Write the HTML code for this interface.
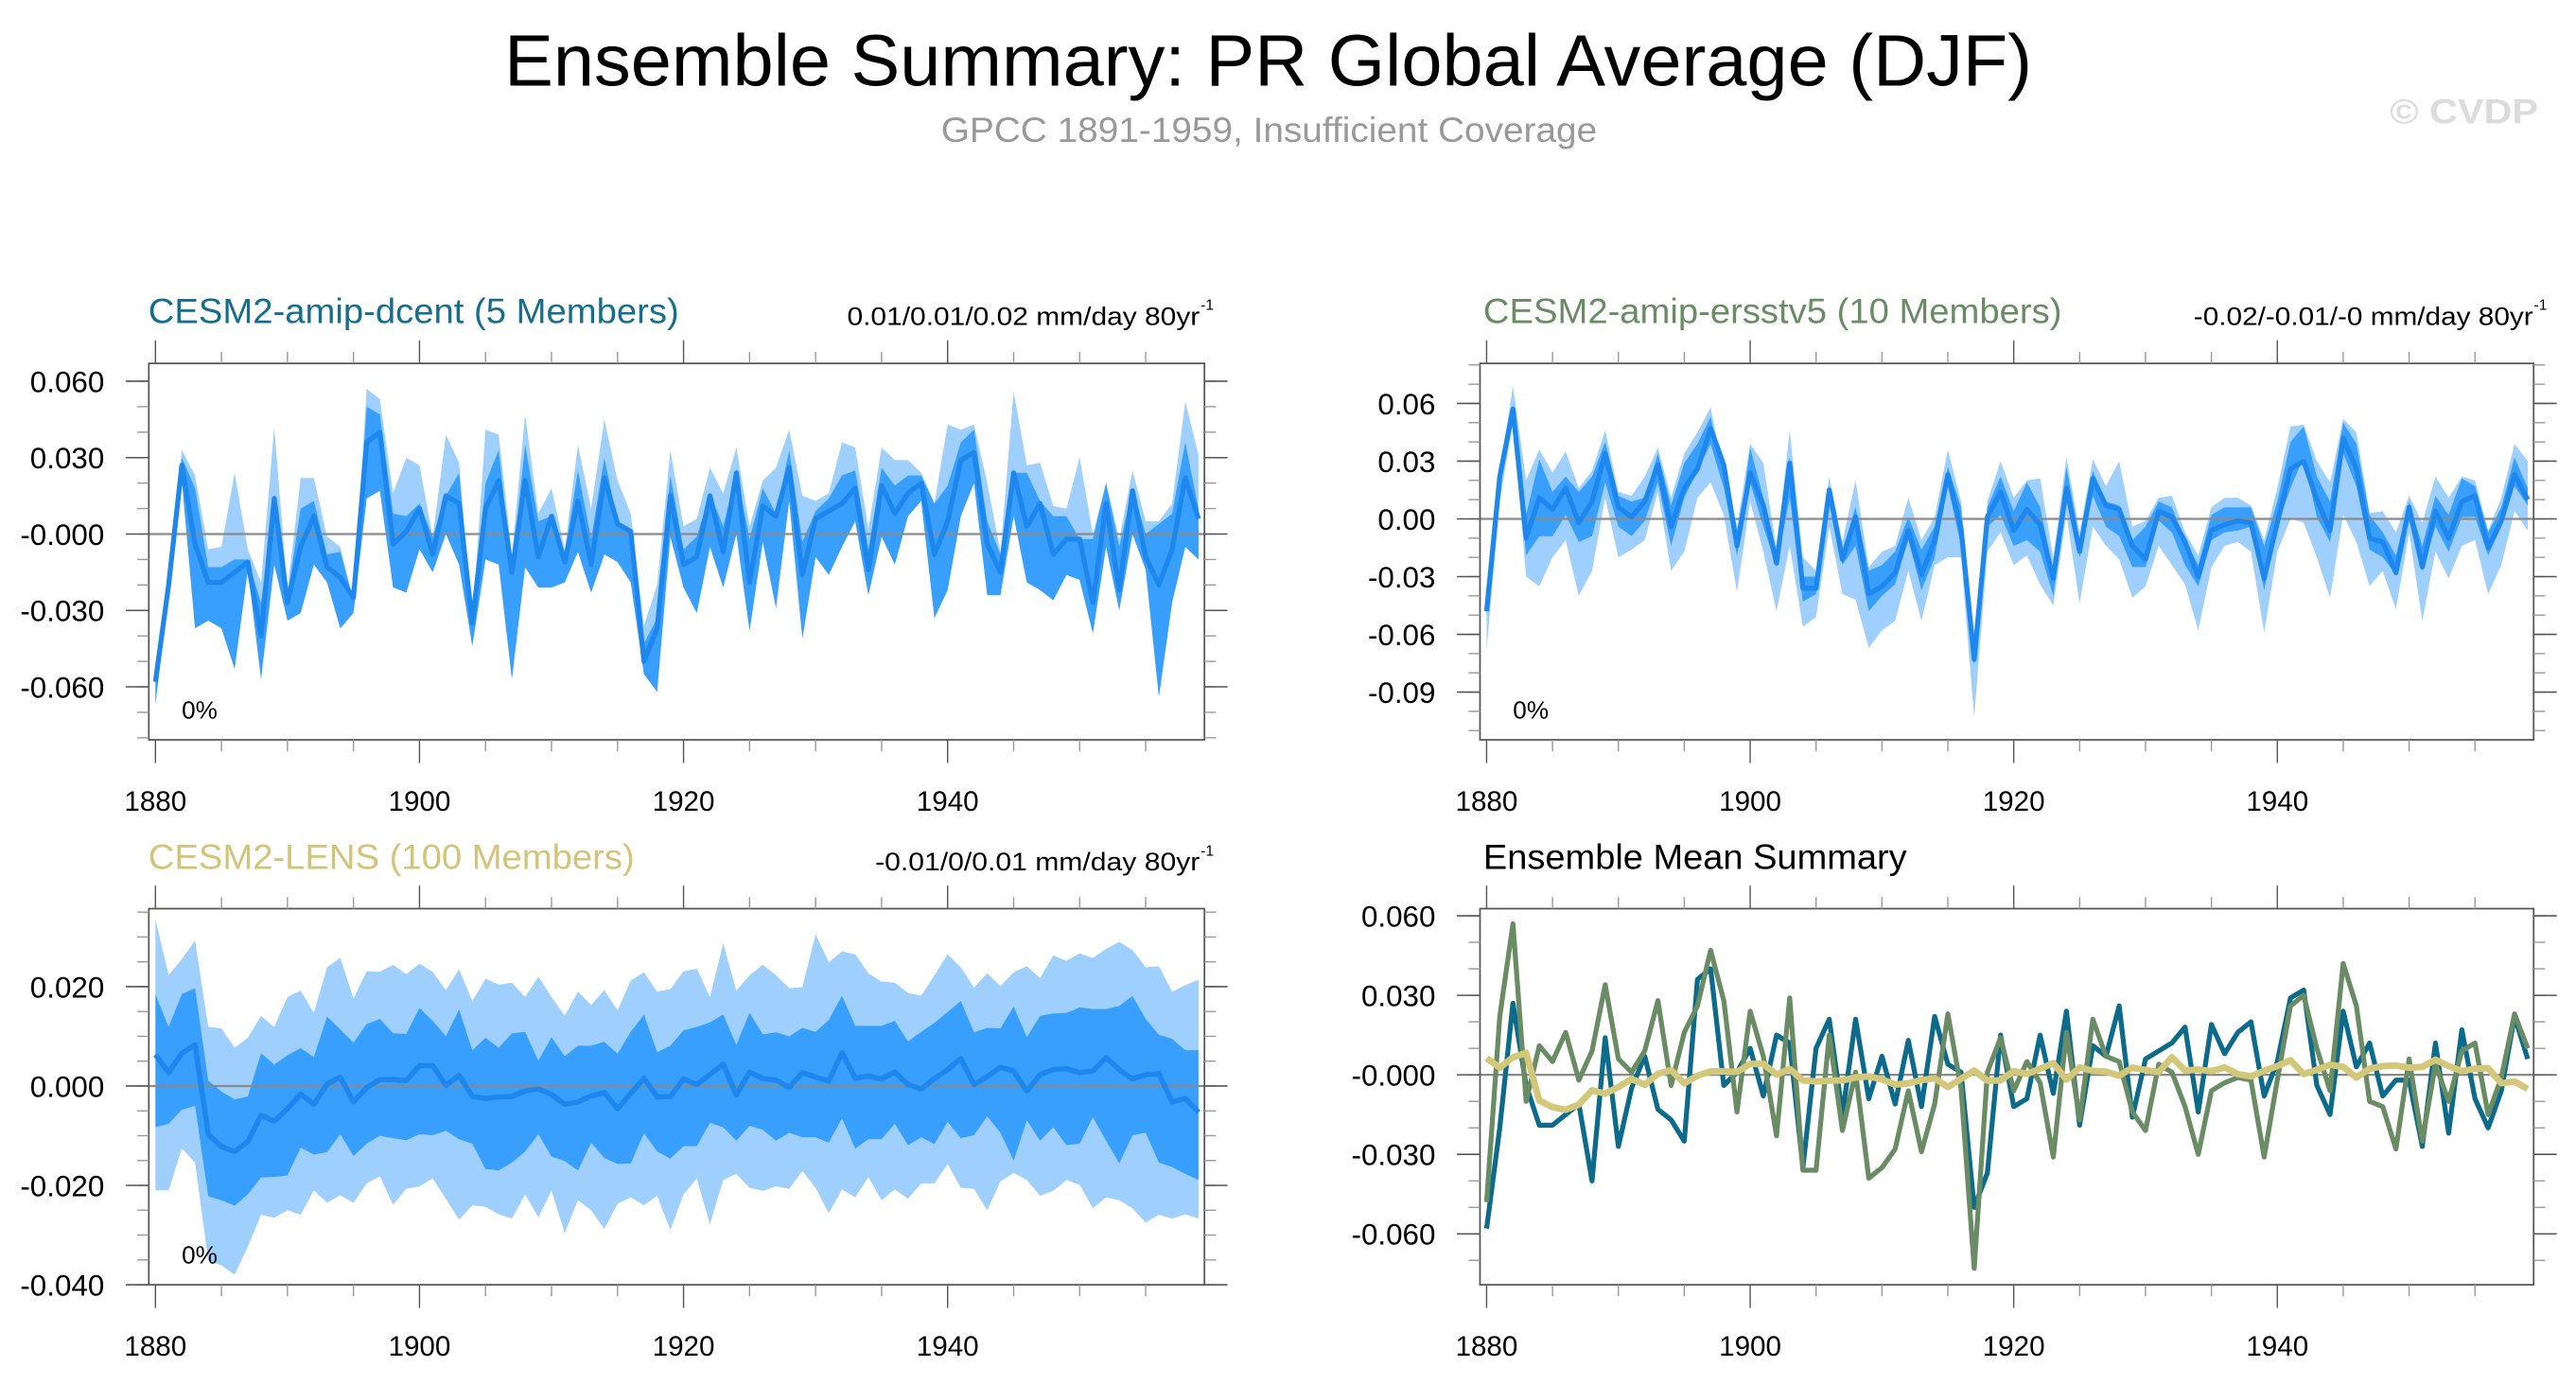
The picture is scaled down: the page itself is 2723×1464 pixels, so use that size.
<!DOCTYPE html>
<html><head><meta charset="utf-8"><title>Ensemble Summary: PR Global Average (DJF)</title>
<style>
html,body{margin:0;padding:0;background:#fff;}
svg{display:block;font-family:"Liberation Sans",Arial,sans-serif;}
</style></head>
<body>
<svg id="chart" width="2723" height="1464" viewBox="0 0 1563 840" preserveAspectRatio="none" xmlns="http://www.w3.org/2000/svg">
<rect x="0" y="0" width="1563" height="840" fill="#fff"/>
<text x="769.5" y="52" font-size="44" text-anchor="middle" textLength="927" lengthAdjust="spacingAndGlyphs">Ensemble Summary: PR Global Average (DJF)</text>
<text x="770" y="86" font-size="21" fill="#999" text-anchor="middle" textLength="398" lengthAdjust="spacingAndGlyphs">GPCC 1891-1959, Insufficient Coverage</text>
<text x="1450" y="75" font-size="21" font-weight="bold" fill="#dcdcdc" textLength="90" lengthAdjust="spacingAndGlyphs">© CVDP</text>

<text x="90" y="196" font-size="21" fill="#156e8e" textLength="322" lengthAdjust="spacingAndGlyphs">CESM2-amip-dcent (5 Members)</text>
<text x="514" y="197" font-size="15.5" textLength="214" lengthAdjust="spacingAndGlyphs">0.01/0.01/0.02 mm/day 80yr</text>
<text x="728.5" y="188" font-size="9">-1</text>

<text x="900" y="196" font-size="21" fill="#6a8c64" textLength="351" lengthAdjust="spacingAndGlyphs">CESM2-amip-ersstv5 (10 Members)</text>
<text x="1331" y="197" font-size="15.5" textLength="206" lengthAdjust="spacingAndGlyphs">-0.02/-0.01/-0 mm/day 80yr</text>
<text x="1537.5" y="188" font-size="9">-1</text>

<text x="90" y="527" font-size="21" fill="#d2c57a" textLength="295" lengthAdjust="spacingAndGlyphs">CESM2-LENS (100 Members)</text>
<text x="531" y="528" font-size="15.5" textLength="197" lengthAdjust="spacingAndGlyphs">-0.01/0/0.01 mm/day 80yr</text>
<text x="728.5" y="519" font-size="9">-1</text>

<text x="900" y="527" font-size="21" fill="#000" textLength="257" lengthAdjust="spacingAndGlyphs">Ensemble Mean Summary</text>
<g id="plots"></g>
</svg>
<script>
const years = [];
for (let y = 1880; y <= 1959; y++) years.push(y);

const dcentMean = [-0.058,-0.020,0.027,-0.004,-0.019,-0.019,-0.015,-0.011,-0.040,0.014,-0.027,-0.005,0.007,-0.013,-0.017,-0.025,0.036,0.040,-0.004,0.001,0.010,-0.008,0.015,0.012,-0.035,0.010,0.021,-0.015,0.021,-0.009,0.007,-0.011,0.013,-0.012,0.022,0.004,0.001,-0.050,-0.037,0.015,-0.012,-0.009,0.015,-0.007,0.024,-0.019,0.011,0.007,0.026,-0.016,0.006,0.009,0.012,0.018,-0.014,0.019,0.008,0.016,0.020,-0.008,0.005,0.029,0.032,-0.004,-0.015,0.024,0.003,0.012,-0.008,-0.002,-0.002,-0.027,0.012,-0.022,0.017,-0.009,-0.020,-0.006,0.022,0.006];
const ersstMean = [-0.048,0.022,0.057,-0.010,0.011,0.005,0.016,-0.002,0.009,0.034,0.006,0.001,0.009,0.028,-0.004,0.016,0.026,0.047,0.028,-0.014,0.024,0.007,-0.023,0.029,-0.036,-0.036,0.015,-0.021,0.001,-0.039,-0.035,-0.028,-0.006,-0.029,-0.011,0.023,-0.005,-0.073,0.001,0.014,-0.006,0.005,-0.003,-0.031,0.016,-0.017,0.021,0.007,0.005,-0.014,-0.021,0.004,0.001,-0.012,-0.030,-0.006,-0.003,-0.001,-0.002,-0.031,-0.002,0.026,0.030,0.010,-0.006,0.042,0.026,-0.010,-0.012,-0.028,0.006,-0.025,0.004,-0.010,0.009,0.012,-0.015,-0.001,0.023,0.010];
const lensMean = [0.0063,0.0027,0.0066,0.0083,-0.0097,-0.0122,-0.0132,-0.0112,-0.0059,-0.0071,-0.0046,-0.0016,-0.0037,0.0004,0.0018,-0.0032,-0.0003,0.0013,0.0013,0.0011,0.0041,0.0041,0.0001,0.0022,-0.0021,-0.0025,-0.0022,-0.0021,-0.0010,-0.0006,-0.0017,-0.0037,-0.0032,-0.0020,-0.0013,-0.0046,-0.0015,0.0016,-0.0022,-0.0021,0.0014,0.0003,0.0023,0.0044,-0.0018,0.0028,0.0015,0.0012,-0.0003,0.0027,0.0018,0.0010,0.0067,0.0016,0.0020,0.0014,0.0028,0.0003,-0.0006,0.0015,0.0033,0.0055,0.0003,0.0019,0.0038,0.0030,-0.0010,0.0023,0.0033,0.0035,0.0027,0.0030,0.0057,0.0033,0.0014,0.0023,0.0025,-0.0032,-0.0025,-0.0053];

const p1LightUpper = [-0.057,-0.015,0.033,0.023,-0.006,-0.005,0.024,-0.006,-0.019,0.042,-0.022,0.022,0.022,-0.001,-0.005,-0.026,0.057,0.053,0.016,0.030,0.027,-0.001,0.039,0.028,-0.034,0.041,0.039,-0.008,0.047,0.008,0.018,-0.006,0.035,0.010,0.045,0.021,0.008,-0.036,-0.020,0.033,0.003,0.006,0.026,0.016,0.034,0.003,0.021,0.026,0.041,0.015,0.013,0.016,0.036,0.034,0.002,0.034,0.029,0.029,0.024,0.012,0.043,0.041,0.043,0.020,-0.007,0.056,0.027,0.028,0.011,0.010,0.030,0.000,0.020,-0.002,0.025,0.005,0.005,0.012,0.052,0.031];
const p1DarkUpper = [-0.057,-0.017,0.030,0.018,-0.013,-0.013,-0.010,-0.010,-0.027,0.014,-0.024,0.010,0.013,-0.008,-0.007,-0.026,0.050,0.047,0.008,0.007,0.012,-0.001,0.015,0.024,-0.034,0.020,0.033,-0.014,0.035,0.005,0.007,-0.008,0.025,-0.002,0.030,0.005,0.000,-0.043,-0.033,0.023,-0.006,-0.001,0.016,0.003,0.024,-0.002,0.018,0.008,0.033,-0.003,0.009,0.014,0.023,0.025,-0.006,0.026,0.019,0.023,0.023,0.012,0.019,0.036,0.041,0.005,-0.008,0.024,0.024,0.013,0.007,0.007,-0.002,-0.002,0.020,-0.005,0.018,0.000,0.004,0.008,0.036,0.010];
const p1Lower = [-0.067,-0.023,0.021,-0.037,-0.034,-0.037,-0.053,-0.014,-0.057,-0.012,-0.034,-0.031,-0.012,-0.019,-0.037,-0.031,0.014,0.017,-0.021,-0.023,-0.006,-0.015,0.000,-0.012,-0.044,-0.010,-0.012,-0.057,-0.013,-0.021,-0.021,-0.019,-0.007,-0.023,-0.008,-0.011,-0.019,-0.055,-0.062,-0.001,-0.021,-0.031,-0.005,-0.021,0.000,-0.038,-0.003,-0.029,0.013,-0.041,-0.009,-0.016,-0.005,0.005,-0.024,-0.001,-0.012,0.007,0.013,-0.033,-0.022,0.007,0.020,-0.024,-0.024,0.007,-0.019,-0.022,-0.026,-0.016,-0.018,-0.039,-0.005,-0.030,0.000,-0.014,-0.064,-0.027,-0.005,-0.010];

const p2LightUpper = [-0.043,0.025,0.069,0.020,0.036,0.024,0.035,0.016,0.025,0.046,0.014,0.012,0.022,0.037,0.011,0.034,0.045,0.058,0.023,-0.004,0.039,0.029,-0.016,0.046,-0.020,-0.027,0.022,-0.012,0.020,-0.025,-0.017,-0.014,0.011,-0.011,0.001,0.036,0.009,-0.063,0.009,0.030,0.011,0.020,0.021,-0.020,0.032,-0.007,0.031,0.017,0.030,-0.004,-0.001,0.011,0.012,-0.007,-0.019,0.006,0.011,0.011,0.007,-0.011,0.016,0.048,0.049,0.030,0.019,0.052,0.045,0.003,0.004,-0.007,0.012,-0.002,0.022,0.011,0.022,0.020,-0.006,0.011,0.039,0.030];
const p2DarkUpper = [-0.045,0.022,0.059,0.002,0.031,0.014,0.022,0.014,0.022,0.040,0.012,0.009,0.011,0.034,0.007,0.029,0.039,0.053,0.022,-0.014,0.037,0.011,-0.017,0.032,-0.030,-0.030,0.017,-0.016,0.006,-0.027,-0.024,-0.017,0.001,-0.016,-0.004,0.027,0.006,-0.070,0.006,0.022,0.004,0.019,0.006,-0.027,0.027,-0.011,0.025,0.009,0.007,-0.011,-0.004,0.009,0.006,-0.011,-0.024,0.002,0.006,0.006,0.006,-0.014,0.009,0.040,0.048,0.022,0.009,0.050,0.039,0.002,-0.007,-0.019,0.009,-0.014,0.012,0.002,0.021,0.017,-0.007,0.006,0.032,0.016];
const p2DarkLower = [-0.050,0.016,0.055,-0.019,-0.009,-0.009,0.002,-0.012,-0.009,0.019,-0.004,-0.009,-0.001,0.019,-0.014,0.011,0.025,0.039,0.016,-0.019,0.019,-0.004,-0.025,0.011,-0.043,-0.039,0.012,-0.024,-0.014,-0.048,-0.040,-0.034,-0.011,-0.037,-0.020,0.017,-0.014,-0.076,-0.004,0.002,-0.014,-0.011,-0.017,-0.040,0.012,-0.020,0.012,-0.004,-0.009,-0.025,-0.025,-0.001,-0.007,-0.024,-0.035,-0.011,-0.007,-0.006,-0.004,-0.037,-0.004,0.016,0.032,0.001,-0.012,0.034,0.017,-0.016,-0.020,-0.029,-0.001,-0.027,-0.004,-0.017,0.001,0.001,-0.019,-0.004,0.017,0.007];
const p2LightLower = [-0.068,0.009,0.050,-0.030,-0.035,-0.020,-0.011,-0.040,-0.027,0.011,-0.020,-0.016,-0.011,0.014,-0.027,-0.017,0.011,0.019,0.002,-0.038,0.009,-0.017,-0.048,-0.014,-0.056,-0.051,-0.004,-0.039,-0.042,-0.067,-0.058,-0.053,-0.027,-0.053,-0.024,-0.020,-0.020,-0.103,-0.017,-0.007,-0.024,-0.019,-0.034,-0.045,0.002,-0.044,-0.004,-0.014,-0.021,-0.041,-0.035,-0.014,-0.024,-0.034,-0.058,-0.025,-0.014,-0.012,-0.017,-0.059,-0.017,0.000,-0.002,-0.020,-0.041,0.002,-0.012,-0.035,-0.027,-0.047,-0.007,-0.053,-0.017,-0.031,-0.014,-0.011,-0.039,-0.024,0.004,-0.006];

const lensLightUpper = [0.0335,0.0223,0.0255,0.0293,0.0119,0.0116,0.0077,0.0097,0.0141,0.0119,0.0179,0.0192,0.0147,0.0239,0.0258,0.0176,0.0231,0.0230,0.0244,0.0225,0.0246,0.0230,0.0193,0.0235,0.0171,0.0216,0.0204,0.0208,0.0179,0.0220,0.0179,0.0141,0.0190,0.0163,0.0193,0.0152,0.0212,0.0229,0.0190,0.0195,0.0231,0.0236,0.0179,0.0287,0.0192,0.0223,0.0244,0.0223,0.0197,0.0199,0.0305,0.0249,0.0271,0.0265,0.0227,0.0210,0.0208,0.0187,0.0182,0.0223,0.0265,0.0239,0.0198,0.0227,0.0201,0.0229,0.0241,0.0217,0.0263,0.0252,0.0267,0.0258,0.0276,0.0290,0.0274,0.0239,0.0241,0.0190,0.0203,0.0214];
const lensDarkUpper = [0.0185,0.0119,0.0185,0.0197,0.0011,-0.0011,-0.0027,-0.0021,0.0066,0.0043,0.0062,0.0076,0.0058,0.0140,0.0114,0.0087,0.0125,0.0135,0.0106,0.0105,0.0157,0.0131,0.0100,0.0154,0.0072,0.0097,0.0077,0.0106,0.0109,0.0051,0.0098,0.0060,0.0081,0.0081,0.0089,0.0065,0.0109,0.0144,0.0068,0.0081,0.0112,0.0119,0.0128,0.0144,0.0083,0.0147,0.0104,0.0108,0.0100,0.0117,0.0109,0.0133,0.0182,0.0121,0.0121,0.0121,0.0131,0.0090,0.0109,0.0127,0.0149,0.0171,0.0108,0.0117,0.0116,0.0160,0.0098,0.0141,0.0146,0.0147,0.0158,0.0155,0.0155,0.0161,0.0181,0.0135,0.0103,0.0095,0.0072,0.0072];
const lensDarkLower = [-0.0083,-0.0076,-0.0048,-0.0040,-0.0222,-0.0230,-0.0241,-0.0218,-0.0184,-0.0183,-0.0180,-0.0124,-0.0138,-0.0133,-0.0097,-0.0141,-0.0116,-0.0100,-0.0105,-0.0109,-0.0097,-0.0099,-0.0090,-0.0107,-0.0116,-0.0167,-0.0170,-0.0154,-0.0132,-0.0097,-0.0142,-0.0151,-0.0170,-0.0114,-0.0145,-0.0157,-0.0156,-0.0095,-0.0132,-0.0146,-0.0121,-0.0121,-0.0074,-0.0083,-0.0110,-0.0080,-0.0088,-0.0110,-0.0094,-0.0103,-0.0103,-0.0114,-0.0065,-0.0126,-0.0107,-0.0107,-0.0076,-0.0119,-0.0103,-0.0117,-0.0072,-0.0105,-0.0099,-0.0061,-0.0094,-0.0150,-0.0069,-0.0110,-0.0083,-0.0119,-0.0116,-0.0063,-0.0110,-0.0156,-0.0099,-0.0094,-0.0154,-0.0163,-0.0177,-0.0189];
const lensLightLower = [-0.0210,-0.0210,-0.0126,-0.0154,-0.0351,-0.0361,-0.0380,-0.0323,-0.0259,-0.0265,-0.0250,-0.0259,-0.0210,-0.0235,-0.0220,-0.0235,-0.0196,-0.0182,-0.0239,-0.0207,-0.0202,-0.0186,-0.0227,-0.0269,-0.0240,-0.0243,-0.0258,-0.0267,-0.0218,-0.0264,-0.0211,-0.0296,-0.0230,-0.0250,-0.0288,-0.0237,-0.0224,-0.0240,-0.0221,-0.0290,-0.0218,-0.0186,-0.0278,-0.0189,-0.0177,-0.0205,-0.0211,-0.0202,-0.0207,-0.0171,-0.0205,-0.0256,-0.0208,-0.0224,-0.0183,-0.0230,-0.0208,-0.0227,-0.0196,-0.0196,-0.0157,-0.0205,-0.0207,-0.0250,-0.0192,-0.0175,-0.0189,-0.0221,-0.0211,-0.0189,-0.0199,-0.0246,-0.0224,-0.0230,-0.0246,-0.0275,-0.0259,-0.0267,-0.0258,-0.0267];

const xTickYears = [1880, 1900, 1920, 1940];
const p1YTicks = [0.06, 0.03, 0, -0.03, -0.06];
const p1YLabels = ["0.060", "0.030", "-0.000", "-0.030", "-0.060"];
const p2YTicks = [0.06, 0.03, 0, -0.03, -0.06, -0.09];
const p2YLabels = ["0.06", "0.03", "0.00", "-0.03", "-0.06", "-0.09"];
const p3YTicks = [0.02, 0, -0.02, -0.04];
const p3YLabels = ["0.020", "0.000", "-0.020", "-0.040"];
const p4YTicks = [0.06, 0.03, 0, -0.03, -0.06];
const p4YLabels = ["0.060", "0.030", "-0.000", "-0.030", "-0.060"];

const NS = "http://www.w3.org/2000/svg";
const root = document.getElementById("plots");
function mk(tag, attrs, parent) {
  const e = document.createElementNS(NS, tag);
  for (const k in attrs) e.setAttribute(k, attrs[k]);
  (parent || root).appendChild(e);
  return e;
}
const LIGHT = "#9fcffd", DARK = "#389ffc", MEANC = "#1e87ee";

function makePanel(cfg, id) {
  const g = mk("g", {});
  
  
  const xs = yr => cfg.bx0 + (yr - 1879.5) / (1959.45 - 1879.5) * (cfg.bx1 - cfg.bx0);
  const ys = v => cfg.by0 + (cfg.ymax - v) / (cfg.ymax - cfg.ymin) * (cfg.by1 - cfg.by0);
  const cp = mk("clipPath", {id: id + "-clip"}, g);
  mk("rect", {x: cfg.bx0, y: cfg.by0, width: cfg.bx1 - cfg.bx0, height: cfg.by1 - cfg.by0}, cp);
  const plot = mk("g", {"clip-path": "url(#" + id + "-clip)"}, g);
  return {g, plot, xs, ys};
}
function band(p, up, lo, color, name) {
  const n = Math.min(years.length, up.length, lo.length);
  const pts = [];
  for (let i = 0; i < n; i++) pts.push(p.xs(years[i]).toFixed(2) + "," + p.ys(up[i]).toFixed(2));
  for (let i = n - 1; i >= 0; i--) pts.push(p.xs(years[i]).toFixed(2) + "," + p.ys(lo[i]).toFixed(2));
  const e = mk("polygon", {points: pts.join(" "), fill: color, stroke: "none"}, p.plot);
  
  
}
function line(p, vals, color, w, name) {
  const n = Math.min(years.length, vals.length);
  const pts = [];
  for (let i = 0; i < n; i++) pts.push(p.xs(years[i]).toFixed(2) + "," + p.ys(vals[i]).toFixed(2));
  const e = mk("polyline", {points: pts.join(" "), fill: "none", stroke: color, "stroke-width": w, "stroke-linejoin": "round"}, p.plot);
  
  
}
function frame(p, cfg, yTicks, yLabels, minorStep, id) {
  const g = p.g;
  const z = mk("line", {x1: cfg.bx0, x2: cfg.bx1, y1: p.ys(0), y2: p.ys(0), stroke: "#8a8a8a", "stroke-width": 1.3}, p.plot);
  
  
  const box = mk("rect", {x: cfg.bx0, y: cfg.by0, width: cfg.bx1 - cfg.bx0, height: cfg.by1 - cfg.by0, fill: "none", stroke: "#555", "stroke-width": 1}, g);
  
  
  for (let yr = 1880; yr <= 1959; yr += 5) {
    const x = p.xs(yr), L = (yr % 20 === 0) ? 14 : 7;
    mk("line", {x1: x, x2: x, y1: cfg.by1, y2: cfg.by1 + L, stroke: L > 10 ? "#555" : "#999", "stroke-width": 0.8}, g);
    mk("line", {x1: x, x2: x, y1: cfg.by0, y2: cfg.by0 - L, stroke: L > 10 ? "#555" : "#999", "stroke-width": 0.8}, g);
  }
  xTickYears.forEach(yr => {
    const t = mk("text", {x: p.xs(yr), y: cfg.by1 + 43, "font-size": 17, "text-anchor": "middle"}, g);
    t.textContent = String(yr);
    
    
  });
  const k0 = Math.ceil(cfg.ymin / minorStep - 1e-6), k1 = Math.floor(cfg.ymax / minorStep + 1e-6);
  for (let k = k0; k <= k1; k++) {
    const y = p.ys(k * minorStep);
    mk("line", {x1: cfg.bx0 - 7, x2: cfg.bx0, y1: y, y2: y, stroke: "#999", "stroke-width": 0.8}, g);
    mk("line", {x1: cfg.bx1, x2: cfg.bx1 + 7, y1: y, y2: y, stroke: "#999", "stroke-width": 0.8}, g);
  }
  yTicks.forEach((v, i) => {
    const y = p.ys(v);
    mk("line", {x1: cfg.bx0 - 14, x2: cfg.bx0, y1: y, y2: y, stroke: "#555", "stroke-width": 0.9}, g);
    mk("line", {x1: cfg.bx1, x2: cfg.bx1 + 14, y1: y, y2: y, stroke: "#555", "stroke-width": 0.9}, g);
    const t = mk("text", {x: cfg.bx0 - 27, y: y + 6.5, "font-size": 18, "text-anchor": "end"}, g);
    t.textContent = yLabels[i];
    
    
  });
}
function pct(p, cfg, id) {
  const t = mk("text", {x: cfg.bx0 + 20, y: cfg.by1 - 13, "font-size": 15}, p.g);
  t.textContent = "0%";
  
  
}

const c1 = {bx0: 90.3, bx1: 730.8, by0: 220.4, by1: 448.7, ymin: -0.0808, ymax: 0.067};
const P1 = makePanel(c1, "panel1");
band(P1, p1LightUpper, p1Lower, LIGHT, "panel1-range-band");
band(P1, p1DarkUpper, p1Lower, DARK, "panel1-spread-band");
frame(P1, c1, p1YTicks, p1YLabels, 0.01, "panel1");
line(P1, dcentMean, MEANC, 3, "panel1-ensemble-mean-line");
pct(P1, c1, "panel1");

const c2 = {bx0: 898.0, bx1: 1537.3, by0: 220.4, by1: 448.7, ymin: -0.1148, ymax: 0.0808};
const P2 = makePanel(c2, "panel2");
band(P2, p2LightUpper, p2LightLower, LIGHT, "panel2-range-band");
band(P2, p2DarkUpper, p2DarkLower, DARK, "panel2-spread-band");
frame(P2, c2, p2YTicks, p2YLabels, 0.01, "panel2");
line(P2, ersstMean, MEANC, 3, "panel2-ensemble-mean-line");
pct(P2, c2, "panel2");

const c3 = {bx0: 90.3, bx1: 730.8, by0: 551.1, by1: 779.2, ymin: -0.040, ymax: 0.0357};
const P3 = makePanel(c3, "panel3");
band(P3, lensLightUpper, lensLightLower, LIGHT, "panel3-range-band");
band(P3, lensDarkUpper, lensDarkLower, DARK, "panel3-spread-band");
frame(P3, c3, p3YTicks, p3YLabels, 0.005, "panel3");
line(P3, lensMean, MEANC, 3.2, "panel3-ensemble-mean-line");
pct(P3, c3, "panel3");

const c4 = {bx0: 898.0, bx1: 1537.3, by0: 551.1, by1: 779.2, ymin: -0.0792, ymax: 0.0627};
const P4 = makePanel(c4, "panel4");
frame(P4, c4, p4YTicks, p4YLabels, 0.01, "panel4");
line(P4, dcentMean, "#0c6a8b", 3, "panel4-amip-dcent-line");
line(P4, ersstMean, "#6a8c64", 3, "panel4-amip-ersstv5-line");
line(P4, lensMean, "#d3c77a", 4, "panel4-lens-line");
</script>
</body></html>
